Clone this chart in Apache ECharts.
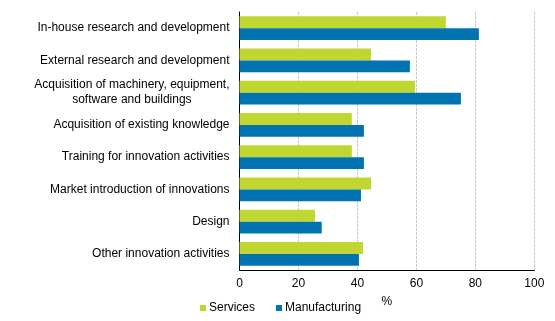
<!DOCTYPE html>
<html>
<head>
<meta charset="utf-8">
<script src="https://cdn.jsdelivr.net/npm/echarts@6/dist/echarts.min.js"></script>
<style>html,body{margin:0;padding:0;background:#fff}#c{width:555px;height:321px}</style>
</head>
<body>
<div id="c"></div>
<script>
var categories = [
  "In-house research and development",
  "External research and development",
  "Acquisition of machinery, equipment,\nsoftware and buildings",
  "Acquisition of existing knowledge",
  "Training for innovation activities",
  "Market introduction of innovations",
  "Design",
  "Other innovation activities"
];
var services = [70.0, 44.6, 59.5, 38.1, 38.1, 44.6, 25.6, 41.9];
var manufacturing = [81.2, 57.8, 75.1, 42.2, 42.2, 41.2, 27.9, 40.5];
var xTicks = [0, 20, 40, 60, 80, 100];

var chart = echarts.init(document.getElementById('c'), null, {renderer: 'canvas'});
var font = "'Liberation Sans', Arial, sans-serif";
chart.setOption({
  animation: false,
  textStyle: {fontFamily: font},
  grid: {left: 239.5, right: 20.7, top: 12, bottom: 51, containLabel: false},
  xAxis: {
    type: 'value',
    min: xTicks[0], max: xTicks[xTicks.length - 1], interval: 20,
    name: '%', nameLocation: 'middle', nameGap: 26,
    nameTextStyle: {color: '#000', fontSize: 12, fontFamily: font},
    axisLine: {show: true, lineStyle: {color: '#000', width: 1}},
    axisTick: {show: false},
    axisLabel: {color: '#000', fontSize: 12, margin: 8, fontFamily: font},
    splitLine: {show: true, lineStyle: {color: '#c8c8c8', type: [3, 1], width: 1}}
  },
  yAxis: {
    type: 'category',
    data: categories,
    inverse: true,
    axisLine: {show: true, lineStyle: {color: '#000', width: 1}},
    axisTick: {show: false},
    axisLabel: {
      color: '#000', fontSize: 12, margin: 10, fontFamily: font,
      formatter: function (v) {
        if (v.indexOf('\n') >= 0) {
          return v.split('\n').map(function (s) { return '{c|' + s + '}'; }).join('\n');
        }
        return v;
      },
      rich: {c: {align: 'center', fontSize: 12, lineHeight: 15, color: '#000', fontFamily: font}}
    },
    splitLine: {show: false}
  },
  legend: {
    left: 195, top: 297,
    itemWidth: 6, itemHeight: 6, itemGap: 21,
    icon: 'rect',
    textStyle: {color: '#000', fontSize: 12, fontFamily: font, padding: [0, 0, 0, -2]},
    data: ['Services', 'Manufacturing']
  },
  series: [
    {name: 'Services', type: 'bar', data: services, barGap: '0%', barCategoryGap: '25.6%',
     itemStyle: {color: '#bfd730'}},
    {name: 'Manufacturing', type: 'bar', data: manufacturing, barGap: '0%', barCategoryGap: '25.6%',
     itemStyle: {color: '#0073b0'}}
  ]
});
</script>
</body>
</html>
